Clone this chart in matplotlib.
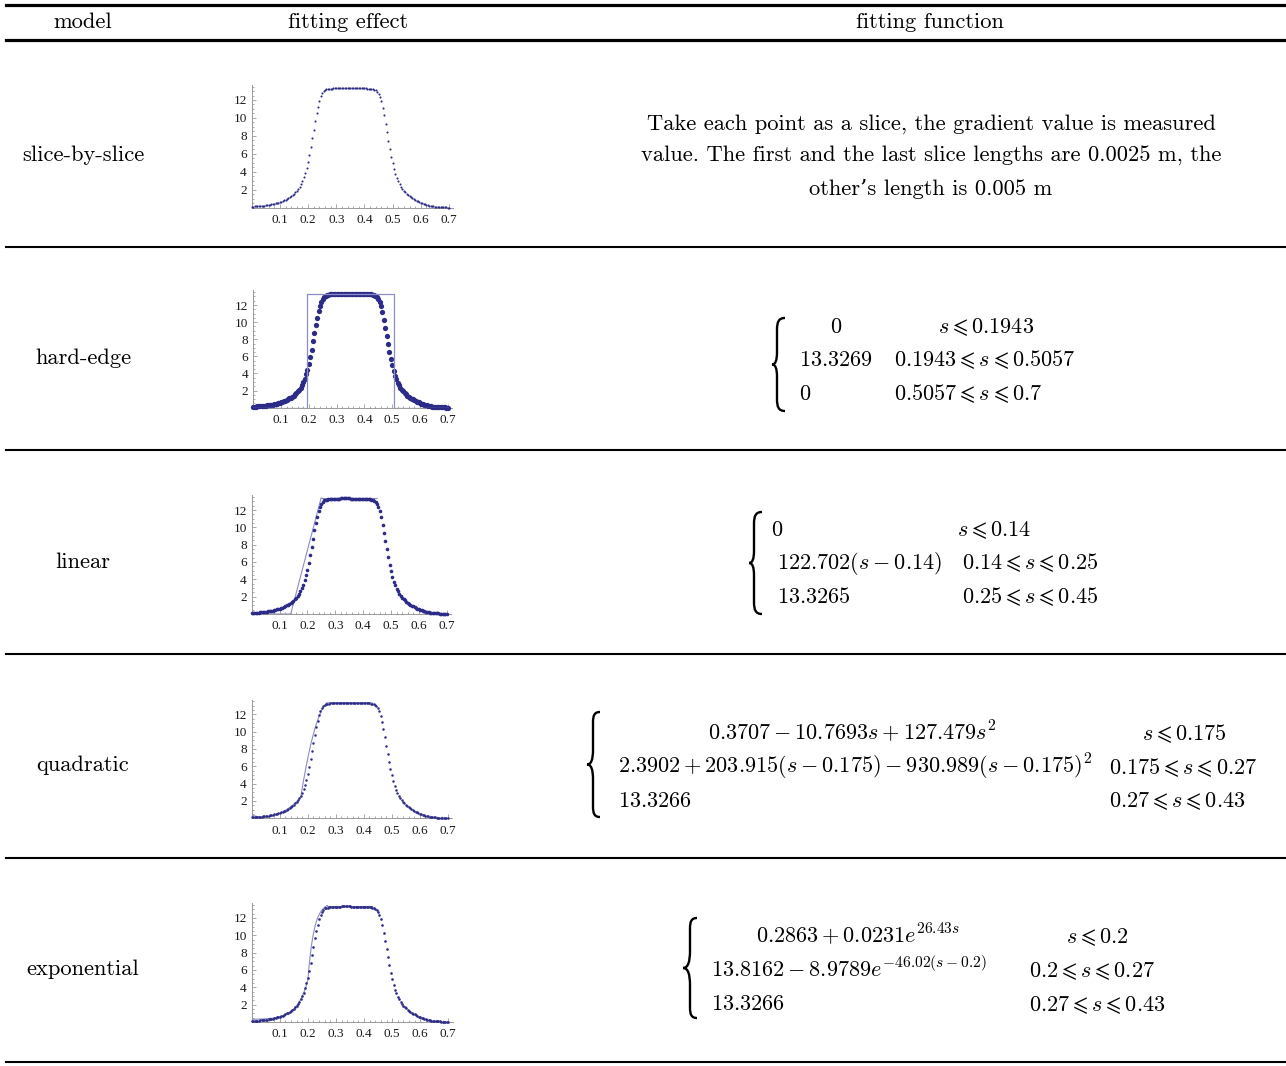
import numpy as np
import matplotlib
matplotlib.use("Agg")
import matplotlib.pyplot as plt
from matplotlib.path import Path
from matplotlib.patches import PathPatch
from matplotlib.lines import Line2D

W, H = 1286, 1066

headers = ["model", "fitting effect", "fitting function"]
models = ["slice-by-slice", "hard-edge", "linear", "quadratic", "exponential"]

# measured gradient, one value per 0.005 m slice
slice_step = 0.005
gradient = [
    0.12, 0.13, 0.14, 0.15, 0.16, 0.17, 0.19, 0.20, 0.22, 0.24,
    0.26, 0.28, 0.31, 0.33, 0.36, 0.40, 0.44, 0.48, 0.52, 0.57,
    0.62, 0.68, 0.75, 0.82, 0.90, 0.99, 1.09, 1.19, 1.30, 1.42,
    1.55, 1.72, 1.90, 2.10, 2.33, 2.60, 2.95, 3.40, 3.90, 4.45,
    5.10, 5.90, 6.80, 7.75, 8.70, 9.65, 10.50, 11.25, 11.90, 12.40,
    12.75, 12.98, 13.10, 13.17, 13.21, 13.24, 13.26, 13.28, 13.29, 13.30,
    13.31, 13.31, 13.32, 13.32, 13.33, 13.33, 13.33, 13.33, 13.33, 13.33,
    13.33, 13.32, 13.32, 13.32, 13.31, 13.31, 13.31, 13.30, 13.30, 13.30,
    13.30,
    13.29, 13.28, 13.27, 13.25, 13.23, 13.20, 13.15, 13.07, 12.93, 12.70,
    12.35, 11.85, 11.15, 10.30, 9.35, 8.40, 7.45, 6.55, 5.70, 4.95,
    4.30, 3.75, 3.30, 2.92, 2.60, 2.33, 2.10, 1.90, 1.72, 1.56,
    1.42, 1.29, 1.17, 1.06, 0.96, 0.87, 0.78, 0.70, 0.62, 0.55,
    0.48, 0.42, 0.37, 0.32, 0.28, 0.24, 0.20, 0.17, 0.14, 0.12,
    0.10, 0.08, 0.07, 0.06, 0.05, 0.04, 0.03, 0.03, 0.02, 0.02,
]
s = np.arange(len(gradient)) * slice_step

# fit parameters (from the table)
hard_edge = {"s1": 0.1943, "s2": 0.5057, "h": 13.3269}
linear_fit = {"s0": 0.14, "s1": 0.25, "s2": 0.45, "k": 122.702, "h": 13.3265}
quad_fit = {"s1": 0.175, "s2": 0.27, "s3": 0.43,
            "a": [0.3707, -10.7693, 127.479],
            "b": [2.3902, 203.915, -930.989], "h": 13.3266}
exp_fit = {"s1": 0.2, "s2": 0.27, "s3": 0.43,
           "a": [0.2863, 0.0231, 26.43],
           "b": [13.8162, -8.9789, -46.02], "h": 13.3266}

x_ticks = [0.1, 0.2, 0.3, 0.4, 0.5, 0.6, 0.7]
y_ticks = [2, 4, 6, 8, 10, 12]

plt.rcParams["mathtext.fontset"] = "cm"
plt.rcParams["axes.unicode_minus"] = False

fig = plt.figure(figsize=(W / 100, H / 100), dpi=100)


def T(x, y, txt, **kw):
    kw.setdefault("fontsize", 16.2)
    kw.setdefault("family", ["cmr10", "DejaVu Serif"])
    return fig.text(x / W, 1 - y / H, txt, **kw)


def hline(y, lw):
    fig.add_artist(Line2D([6 / W, 1], [1 - y / H, 1 - y / H], color="black",
                          lw=lw, transform=fig.transFigure))


def brace(xt, xv, xe, ytop, ybot, lw=1.7):
    ym = (ytop + ybot) / 2
    r = xe - xv
    d = xv - xt
    pts = [(xe, ytop), (xv + 0.2 * r, ytop), (xv, ytop + 0.5 * r), (xv, ytop + 1.5 * r),
           (xv, ym - 2.5 * d),
           (xv, ym - 0.8 * d), (xv - 0.3 * d, ym), (xt, ym),
           (xv - 0.3 * d, ym), (xv, ym + 0.8 * d), (xv, ym + 2.5 * d),
           (xv, ybot - 1.5 * r),
           (xv, ybot - 0.5 * r), (xv + 0.2 * r, ybot), (xe, ybot)]
    codes = [Path.MOVETO, Path.CURVE4, Path.CURVE4, Path.CURVE4, Path.LINETO,
             Path.CURVE4, Path.CURVE4, Path.CURVE4,
             Path.CURVE4, Path.CURVE4, Path.CURVE4, Path.LINETO,
             Path.CURVE4, Path.CURVE4, Path.CURVE4]
    pts = [(x / W, 1 - y / H) for x, y in pts]
    fig.add_artist(PathPatch(Path(pts, codes), fill=False, lw=lw,
                             edgecolor="black", transform=fig.transFigure))


def small_axes(x0, x07, y0, y12):
    xs = (x07 - x0) / 0.7
    ys = (y0 - y12) / 12
    xmax, ymax = 0.715, 13.7
    ax = fig.add_axes([x0 / W, 1 - y0 / H, xmax * xs / W, ymax * ys / H])
    ax.set_xlim(0, xmax)
    ax.set_ylim(0, ymax)
    ax.patch.set_alpha(0)
    for side in ["top", "right"]:
        ax.spines[side].set_visible(False)
    for side in ["left", "bottom"]:
        ax.spines[side].set_color("#9a9a9a")
        ax.spines[side].set_linewidth(0.7)
    ax.set_xticks(x_ticks)
    ax.set_yticks(y_ticks)
    ax.set_xticks(np.arange(0.02, 0.71, 0.02), minor=True)
    ax.set_yticks(np.arange(0.5, 13.6, 0.5), minor=True)
    ax.set_xticklabels([f"{v:.1f}" for v in x_ticks])
    ax.set_yticklabels([str(v) for v in y_ticks])
    ax.tick_params(which="both", direction="in", color="#9a9a9a", width=0.6)
    ax.tick_params(which="major", length=3, labelsize=9.5)
    ax.tick_params(axis="x", which="major", pad=4.5)
    ax.tick_params(axis="y", which="major", pad=3.5)
    ax.tick_params(which="minor", length=1.5)
    for lab in ax.get_xticklabels() + ax.get_yticklabels():
        lab.set_family("Liberation Serif")
        lab.set_color("#1a1a1a")
    return ax


dot_color = "#2c2c88"
fit_color = "#8c8cc8"

# table rules
hline(5, 2.3)
hline(40, 2.3)
for y in [246.5, 450, 654, 857.5, 1062]:
    hline(y, 1.5)

# header
T(83, 22, headers[0], ha="center", va="center")
T(348, 22, headers[1], ha="center", va="center")
T(930, 22, headers[2], ha="center", va="center")

row_y = [155, 358, 562, 765, 969]
for name, y in zip(models, row_y):
    T(83, y, name, ha="center", va="center")

# small plots
axes_px = [(251.7, 449.0, 207.7, 100),
           (253.3, 447.7, 407.7, 305),
           (251.7, 446.7, 614, 510),
           (251.7, 447.7, 818.3, 714.3),
           (251.7, 448.3, 1022, 918)]
dot_size = [1.5, 3.8, 2.6, 1.8, 1.9]
axs = []
for (x0, x07, y0, y12), ms in zip(axes_px, dot_size):
    ax = small_axes(x0, x07, y0, y12)
    ax.plot(s, gradient, "o", ms=ms, color=dot_color, mec="none", clip_on=False, zorder=3)
    axs.append(ax)

# hard-edge fit
he = hard_edge
axs[1].plot([0, he["s1"], he["s1"], he["s2"], he["s2"], 0.7],
            [0, 0, he["h"], he["h"], 0, 0], color=fit_color, lw=0.9, zorder=4)

# linear fit
lf = linear_fit
xl = np.linspace(0, lf["s2"], 400)
yl = np.where(xl <= lf["s0"], 0,
              np.where(xl <= lf["s1"], lf["k"] * (xl - lf["s0"]), lf["h"]))
axs[2].plot(xl, yl, color=fit_color, lw=0.8, zorder=2, clip_on=False)

# quadratic fit
qf = quad_fit
xq = np.linspace(0, qf["s3"], 400)
a, b = qf["a"], qf["b"]
yq = np.where(xq <= qf["s1"], a[0] + a[1] * xq + a[2] * xq ** 2,
              np.where(xq <= qf["s2"],
                       b[0] + b[1] * (xq - qf["s1"]) + b[2] * (xq - qf["s1"]) ** 2,
                       qf["h"]))
axs[3].plot(xq, yq, color=fit_color, lw=0.8, zorder=2)

# exponential fit
ef = exp_fit
xe = np.linspace(0, ef["s3"], 400)
a, b = ef["a"], ef["b"]
ye = np.where(xe <= ef["s1"], a[0] + a[1] * np.exp(a[2] * xe),
              np.where(xe <= ef["s2"], b[0] + b[1] * np.exp(b[2] * (xe - ef["s1"])),
                       ef["h"]))
axs[4].plot(xe, ye, color=fit_color, lw=0.8, zorder=2)

# fitting function column
T(931, 130, "Take each point as a slice, the gradient value is measured",
  ha="center", va="baseline")
T(931, 162, "value. The first and the last slice lengths are 0.0025 m, the",
  ha="center", va="baseline")
T(931, 195, "other\u2019s length is 0.005 m", ha="center", va="baseline")

M = dict(fontsize=16, va="baseline")

# hard-edge
brace(772, 777, 785, 318, 411)
T(836, 333, r"$0$", ha="center", **M)
T(938, 333, r"$s\leqslant0.1943$", ha="left", **M)
T(799, 366, r"$13.3269$", ha="left", **M)
T(894, 366, r"$0.1943\leqslant s\leqslant0.5057$", ha="left", **M)
T(799, 399.5, r"$0$", ha="left", **M)
T(894, 399.5, r"$0.5057\leqslant s\leqslant0.7$", ha="left", **M)

# linear
brace(749, 754, 762, 512, 614)
T(771, 536, r"$0$", ha="left", **M)
T(957, 536, r"$s\leqslant0.14$", ha="left", **M)
T(777, 569, r"$122.702(s-0.14)$", ha="left", **M)
T(962, 569, r"$0.14\leqslant s\leqslant0.25$", ha="left", **M)
T(777, 603, r"$13.3265$", ha="left", **M)
T(962, 603, r"$0.25\leqslant s\leqslant0.45$", ha="left", **M)

# quadratic
brace(587, 593, 600, 712, 817)
T(852, 740, r"$0.3707-10.7693s+127.479s^2$", ha="center", **M)
T(1142, 740, r"$s\leqslant0.175$", ha="left", **M)
T(618, 774, r"$2.3902+203.915(s-0.175)-930.989(s-0.175)^2$", ha="left", **M)
T(1109, 774, r"$0.175\leqslant s\leqslant0.27$", ha="left", **M)
T(618, 807, r"$13.3266$", ha="left", **M)
T(1109, 807, r"$0.27\leqslant s\leqslant0.43$", ha="left", **M)

# exponential
brace(683, 690, 697, 918, 1018)
T(858, 943, r"$0.2863+0.0231e^{26.43s}$", ha="center", **M)
T(1066, 943, r"$s\leqslant0.2$", ha="left", **M)
T(711, 977, r"$13.8162-8.9789e^{-46.02(s-0.2)}$", ha="left", **M)
T(1029, 977, r"$0.2\leqslant s\leqslant0.27$", ha="left", **M)
T(711, 1010.5, r"$13.3266$", ha="left", **M)
T(1029, 1010.5, r"$0.27\leqslant s\leqslant0.43$", ha="left", **M)

fig.savefig("out.png", dpi=100)
